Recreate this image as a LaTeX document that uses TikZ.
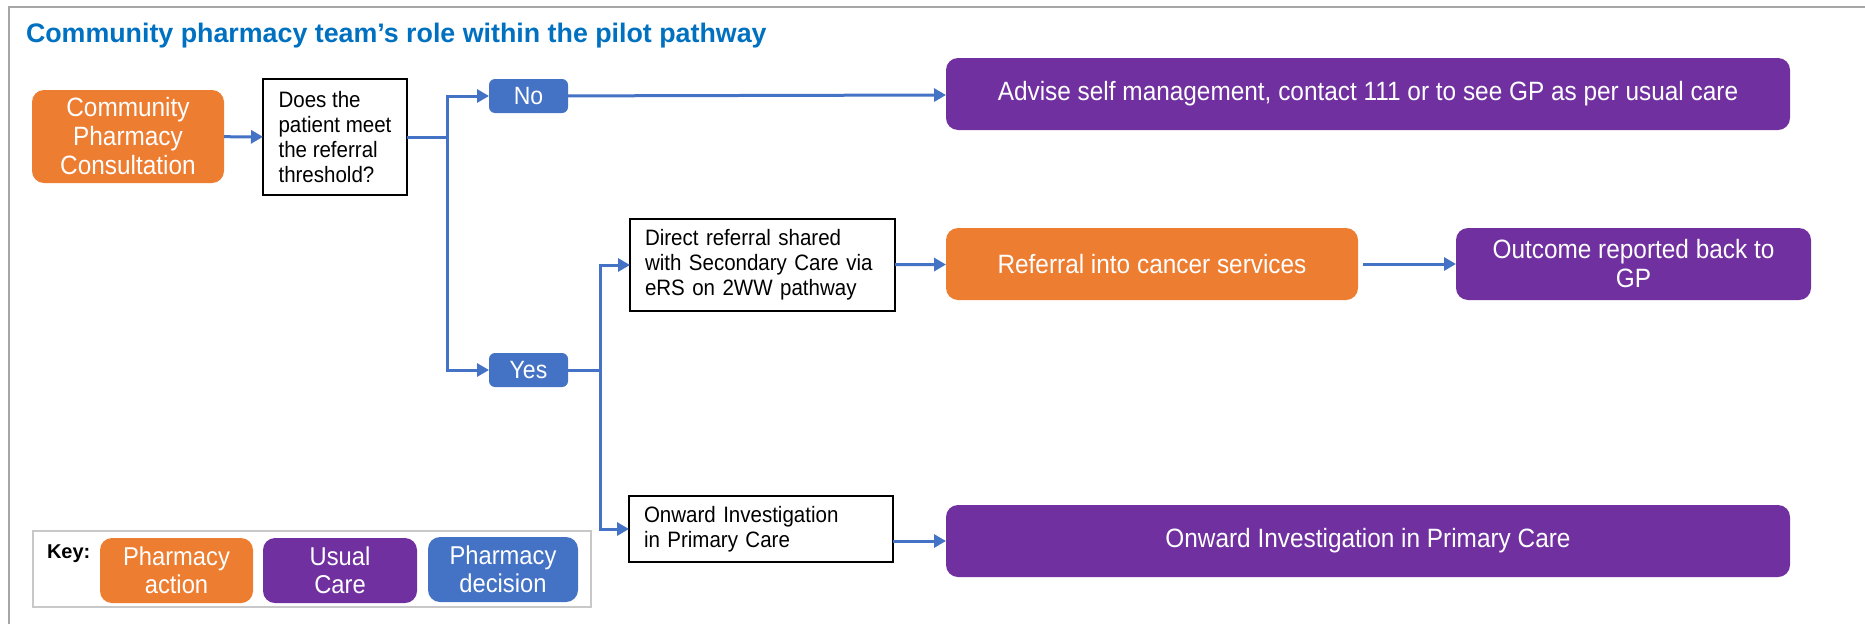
\documentclass[tikz,border=0pt]{standalone}
\usepackage{fontspec}
\setmainfont{Liberation Sans}
\newfontfamily\boxfont{Liberation Sans}[FakeStretch=0.92]
\usetikzlibrary{arrows.meta}

\definecolor{pharmorange}{HTML}{ED7D31}
\definecolor{usualpurple}{HTML}{7030A0}
\definecolor{decisionblue}{HTML}{4472C4}
\definecolor{titleblue}{HTML}{0070C0}
\definecolor{framegray}{HTML}{A6A6A6}
\definecolor{keygray}{HTML}{C8C8C8}

\begin{document}
\begin{tikzpicture}[x=1pt,y=-1pt,
    every node/.style={inner sep=0pt,outer sep=0pt},
    action/.style={fill=pharmorange,rounded corners=12pt,text=white,align=center,
        font=\boxfont\fontsize{26.5}{29}\selectfont},
    usual/.style={action,fill=usualpurple},
    decision/.style={action,fill=decisionblue,rounded corners=6pt,
        font=\boxfont\fontsize{25}{28}\selectfont},
    note/.style={draw=black,line width=1.5pt,fill=white,align=left,inner xsep=15pt,
        font=\boxfont\fontsize{22.3}{24.8}\selectfont},
    line/.style={draw=decisionblue,line width=3pt},
    flow/.style={line,-{Triangle[length=12pt,width=13pt]}}]

    % Page frame and heading
    \useasboundingbox (0,0) rectangle (1865,624);
    \draw[framegray,line width=2pt] (9,624) -- (9,7) -- (1865,7);
    \node[anchor=base west,text=titleblue,font=\bfseries\fontsize{26.8}{30}\selectfont] (title)
        at (26,42) {Community pharmacy team’s role within the pilot pathway};

    % Consultation and the referral question
    \node[action,minimum width=192pt,minimum height=93pt] (consult) at (128,136.5)
        {Community\\Pharmacy\\Consultation};
    \node[note,inner xsep=0pt,minimum width=144pt,minimum height=116pt] (threshold) at (335,137)
        {Does the\\patient meet\\the referral\\threshold?};

    % Decisions
    \node[decision,minimum width=79pt,minimum height=34pt] (no) at (528.5,96) {No};
    \node[decision,minimum width=79pt,minimum height=34pt] (yes) at (528.5,370) {Yes};

    % Outcomes
    \node[usual,minimum width=844pt,minimum height=72pt] (advise) at (1368,94)
        {Advise self management, contact 111 or to see GP as per usual care};
    \node[note,text width=235pt,minimum height=92pt] (direct) at (762.5,265)
        {Direct referral shared\\with Secondary Care via\\eRS on 2WW pathway};
    \node[action,minimum width=412pt,minimum height=72pt] (cancer) at (1152,264)
        {Referral into cancer services};
    \node[usual,minimum width=355pt,minimum height=72pt] (outcome) at (1633.5,264)
        {Outcome reported back to\\GP};
    \node[note,text width=234pt,minimum height=66pt] (investigate) at (761,529)
        {Onward Investigation\\in Primary Care};
    \node[usual,minimum width=844pt,minimum height=72pt] (primary) at (1368,541)
        {Onward Investigation in Primary Care};

    % Connectors
    \coordinate (split) at (447,137);
    \coordinate (branch) at (600,370);
    \draw[flow] (consult) -- (threshold);
    \draw[line] (threshold) -- ([xshift=1.5pt]split);
    \draw[flow] (split) |- (no);
    \draw[flow] (split) |- (yes);
    \draw[flow] (no) -- (advise);
    \draw[line] (yes) -- ([xshift=1.5pt]branch);
    \draw[flow] (branch) |- (direct);
    \draw[flow] (branch) |- (investigate);
    \draw[flow] (direct) -- (cancer);
    \draw[flow] ([xshift=5pt]cancer.east) -- (outcome);
    \draw[flow] (investigate.east |- primary.west) -- (primary);

    % Key
    \node[draw=keygray,line width=1.2pt,minimum width=558pt,minimum height=76pt] (key)
        at (312,569) {};
    \node[anchor=west,font=\bfseries\fontsize{20}{22}\selectfont] (keylabel) at (47,554) {Key:};
    \node[action,minimum width=153pt,minimum height=65pt,font=\boxfont\fontsize{25.8}{28}\selectfont]
        (keyaction) at (176.5,570.5) {Pharmacy\\action};
    \node[usual,minimum width=154pt,minimum height=65pt,font=\boxfont\fontsize{25.8}{28}\selectfont]
        (keyusual) at (340,570.5) {Usual\\Care};
    \node[decision,rounded corners=12pt,minimum width=150pt,minimum height=65pt,
        font=\boxfont\fontsize{25.8}{28}\selectfont] (keydecision) at (503,569.5) {Pharmacy\\decision};
\end{tikzpicture}
\end{document}
